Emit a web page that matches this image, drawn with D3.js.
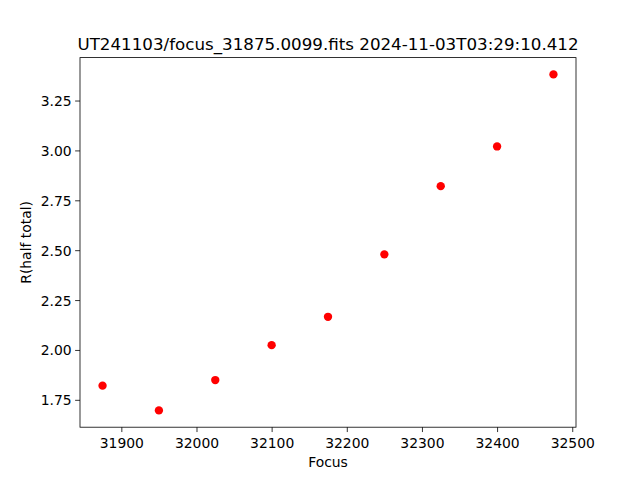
<!DOCTYPE html>
<html><head><meta charset="utf-8">
<script src="https://cdn.jsdelivr.net/npm/d3@7"></script>
<style>body{margin:0;background:#fff}svg{display:block}text{font-family:"DejaVu Sans",sans-serif;fill:#000}</style>
</head><body>
<svg id="c" width="640" height="480"></svg>
<script>
const focus = [31875, 31950, 32025, 32100, 32175, 32250, 32325, 32400, 32475];
const rHalf = [1.821, 1.697, 1.849, 2.024, 2.166, 2.479, 2.821, 3.020, 3.381];
const xTicks = [31900, 32000, 32100, 32200, 32300, 32400, 32500];
const yTicks = [1.75, 2.00, 2.25, 2.50, 2.75, 3.00, 3.25];
const title = "UT241103/focus_31875.0099.fits 2024-11-03T03:29:10.412";

const W = 640, H = 480;
const L = 80, R = 576, T = 57.6, B = 427.2;
const svg = d3.select("#c");

function pad(ext){const d=ext[1]-ext[0];return [ext[0]-0.05*d, ext[1]+0.05*d];}
const x = d3.scaleLinear().domain(pad(d3.extent(focus))).range([L, R]);
const y = d3.scaleLinear().domain(pad(d3.extent(rHalf))).range([B, T]);

const xAxis = svg.append("g").attr("transform", `translate(0,${B})`)
  .call(d3.axisBottom(x).tickValues(xTicks).tickSize(4.86).tickPadding(3.5).tickFormat(d3.format("d")));
const yAxis = svg.append("g").attr("transform", `translate(${L},0)`)
  .call(d3.axisLeft(y).tickValues(yTicks).tickSize(4.86).tickPadding(3.5).tickFormat(d3.format(".2f")));
[xAxis, yAxis].forEach(a => {
  a.select(".domain").remove();
  a.selectAll(".tick line").attr("stroke", "#000").attr("stroke-width", 0.8);
  a.selectAll(".tick text").attr("font-size", "13.9px").attr("font-family", "DejaVu Sans").attr("fill", "#000");
});
xAxis.selectAll(".tick text").attr("dy", null).attr("y", 20.4);
yAxis.selectAll(".tick text").attr("dy", "0.36em");

svg.append("rect").attr("x", L).attr("y", T).attr("width", R - L).attr("height", B - T)
  .attr("fill", "none").attr("stroke", "#000").attr("stroke-width", 0.8);

svg.append("g").selectAll("circle").data(focus).join("circle")
  .attr("cx", d => x(d)).attr("cy", (d, i) => y(rHalf[i])).attr("r", 4.17).attr("fill", "#ff0000");

svg.append("text").attr("x", (L + R) / 2).attr("y", 50).attr("text-anchor", "middle")
  .attr("font-size", "16.7px").text(title);
svg.append("text").attr("x", (L + R) / 2).attr("y", 467).attr("text-anchor", "middle")
  .attr("font-size", "13.9px").text("Focus");
svg.append("text").attr("transform", `translate(31,${(T + B) / 2}) rotate(-90)`).attr("text-anchor", "middle")
  .attr("font-size", "13.9px").text("R(half total)");
</script>
</body></html>
